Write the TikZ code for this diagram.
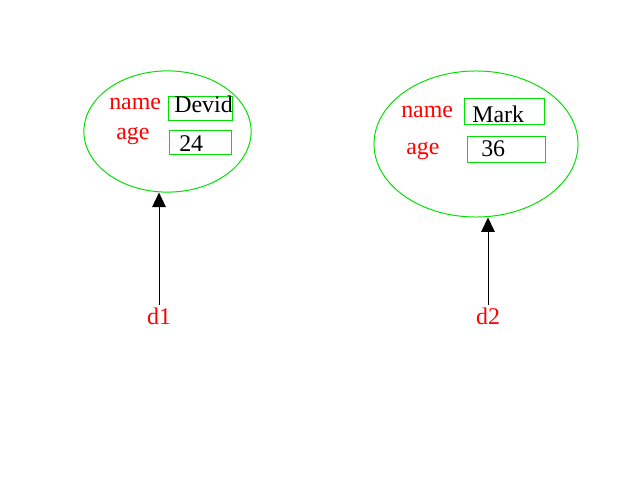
\documentclass[tikz,border=0pt]{standalone}
\usepackage{fontspec}
\setmainfont{Liberation Serif}
\usetikzlibrary{positioning,arrows.meta,shapes.geometric}
\definecolor{ovalGreen}{RGB}{0,225,0}
\definecolor{labelRed}{RGB}{255,0,0}
\tikzstyle{screen} = [x = 0.025cm, y = -0.025cm]
\tikzstyle{objectOval} = [draw=ovalGreen, ellipse, line width=0.7pt, inner sep=0]
\tikzstyle{fieldBox} = [draw=ovalGreen, rectangle, line width=0.7pt, inner sep=0]
\tikzstyle{fieldLabel} = [text=labelRed, font=\fontsize{17}{20}\selectfont, inner sep=0, anchor=base west]
\tikzstyle{fieldValue} = [text=black, font=\fontsize{17}{20}\selectfont, inner sep=0, anchor=base west]
\tikzstyle{refName} = [text=labelRed, font=\fontsize{17}{20}\selectfont, inner sep=1.5pt, anchor=base]
\tikzstyle{pointer} = [black, line width=0.7pt, -{Triangle[width=3.4mm, length=3.6mm]}]
\begin{document}
\begin{tikzpicture}[screen]
        \useasboundingbox (0,0) rectangle (640,480);
        % object d1
        \node [objectOval, minimum width=4.18cm, minimum height=3.03cm] (obj1) at (167.5,131.5) {};
        \node [fieldBox, minimum width=1.6cm, minimum height=0.6cm] (nameBox1) at (200,108) {};
        \node [fieldBox, minimum width=1.53cm, minimum height=0.58cm] (ageBox1) at (200.5,142.5) {};
        \node [fieldLabel] (nameLbl1) at (109,109) {name};
        \node [fieldLabel] (ageLbl1) at (116,139) {age};
        \node [fieldValue] (nameVal1) at (174,112) {Devid};
        \node [fieldValue] (ageVal1) at (179,151) {24};

        % object d2
        \node [objectOval, minimum width=5.1cm, minimum height=3.65cm] (obj2) at (476,144) {};
        \node [fieldBox, minimum width=1.98cm, minimum height=0.63cm] (nameBox2) at (504.5,111.5) {};
        \node [fieldBox, minimum width=1.93cm, minimum height=0.63cm] (ageBox2) at (506.5,149.5) {};
        \node [fieldLabel] (nameLbl2) at (401,117) {name};
        \node [fieldLabel] (ageLbl2) at (406,154) {age};
        \node [fieldValue] (nameVal2) at (472,122) {Mark};
        \node [fieldValue] (ageVal2) at (481,156) {36};

        % references
        \node [refName] (d1) at (159,324) {d1};
        \node [refName] (d2) at (488,324) {d2};
        \draw [pointer] (d1.north) -- (d1.north |- obj1.south);
        \draw [pointer] (d2.north) -- (d2.north |- obj2.south);
      \end{tikzpicture}
\end{document}
